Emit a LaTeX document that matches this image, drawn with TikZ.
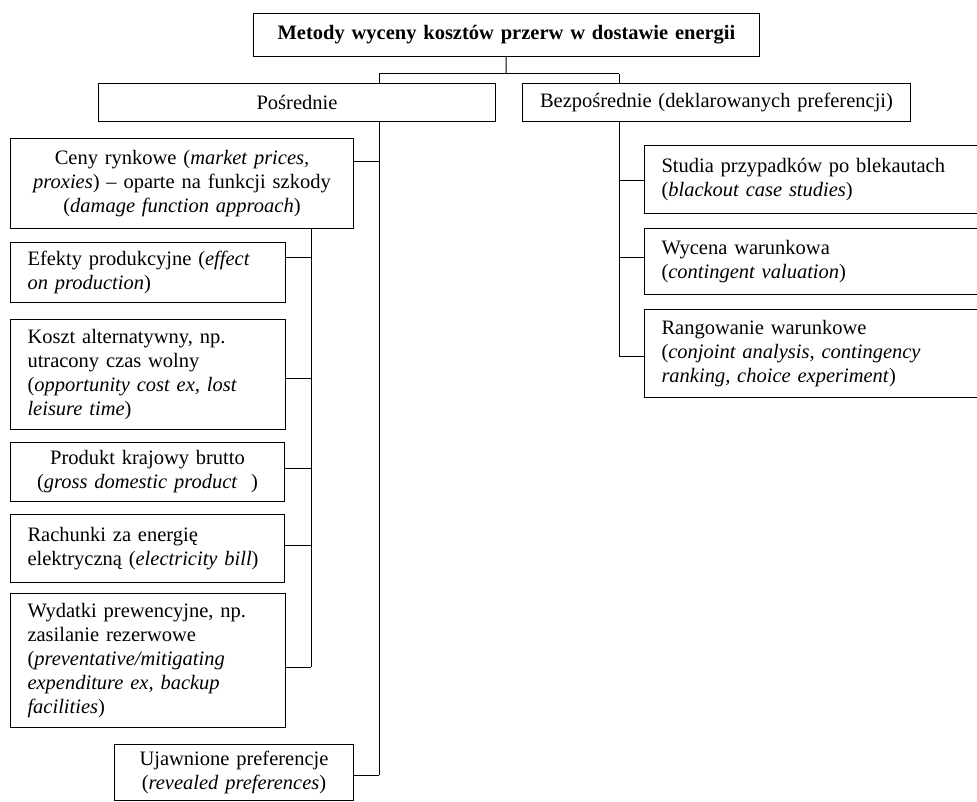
\documentclass[tikz,border=0pt]{standalone}
\usepackage{fontspec}
\setmainfont{Liberation Serif}
\usepackage{tikz}
\newcommand{\boxfont}{\fontsize{20.5}{24}\selectfont}

\tikzset{
    box/.style={draw, rectangle, anchor=north west, line width=1pt,
        inner xsep=17pt, inner ysep=0pt, font=\boxfont},
    lbox/.style={box, align=left},
    cbox/.style={box, align=center},
    conn/.style={line width=1pt},
}

\begin{document}
\begin{tikzpicture}[x=1pt, y=-1pt]
    \useasboundingbox (0,0) rectangle (977,802);
    \node[cbox, font=\boxfont\bfseries, text width=472pt, minimum height=43pt](top) at (253,13) {Metody wyceny kosztów przerw w dostawie energii};
    \node[cbox, text width=363pt, minimum height=38pt](posr)   at (98,83)  {Pośrednie};
    \node[cbox, text width=354pt, minimum height=38pt](bezp)   at (522,83) {Bezpośrednie (deklarowanych preferencji)};
    % Posrednie
    \node[cbox, text width=309pt, minimum height=90pt](ceny)   at (10,138) {Ceny rynkowe (\textit{market prices,}\\\textit{proxies}) – oparte na funkcji szkody\\(\textit{damage function approach})};
    \node[lbox, text width=241pt, minimum height=60pt](efekty) at (10,242) {Efekty produkcyjne (\textit{effect}\\\textit{on production})};
    \node[lbox, text width=241pt, minimum height=110pt](koszt) at (10,319) {Koszt alternatywny, np.\\utracony czas wolny\\(\textit{opportunity cost ex, lost}\\\textit{leisure time})};
    \node[cbox, text width=240pt, minimum height=59pt](pkb)    at (10,442) {Produkt krajowy brutto\\(\textit{gross domestic product}~~)};
    \node[lbox, text width=240pt, minimum height=68pt](rach)   at (10,514) {Rachunki za energię\\elektryczną (\textit{electricity bill})};
    \node[lbox, text width=241pt, minimum height=134pt](wyd)   at (10,593) {Wydatki prewencyjne, np.\\zasilanie rezerwowe\\(\textit{preventative/mitigating}\\\textit{expenditure ex, backup}\\\textit{facilities})};
    \node[cbox, text width=205pt, minimum height=56pt](ujawn)  at (114,744) {Ujawnione preferencje\\(\textit{revealed preferences})};
    % Bezposrednie
    \node[lbox, text width=307pt, minimum height=68pt](studia) at (644,145) {Studia przypadków po blekautach\\(\textit{blackout case studies})};
    \node[lbox, text width=307pt, minimum height=66pt](wycena) at (644,228) {Wycena warunkowa\\(\textit{contingent valuation})};
    \node[lbox, text width=307pt, minimum height=88pt](rang)   at (644,309) {Rangowanie warunkowe\\(\textit{conjoint analysis, contingency}\\\textit{ranking, choice experiment})};
    % Junctions
    \coordinate (jm) at (506,74);
    \coordinate (jl) at (379,74);
    \coordinate (jr) at (619,74);
    \coordinate (t-ceny)  at (379,162);
    \coordinate (t-ujawn) at (379,775);
    \coordinate (s-efekty) at (311,258);
    \coordinate (s-koszt)  at (311,378);
    \coordinate (s-pkb)    at (311,468);
    \coordinate (s-rach)   at (311,545);
    \coordinate (s-wyd)    at (311,667);
    \coordinate (r-studia) at (619,181);
    \coordinate (r-wycena) at (619,258);
    \coordinate (r-rang)   at (619,356);
    % Connectors
    \path[conn]
        (top)
            edge (jm)
        (jl)
            edge (jr)
            edge (jl |- posr.north)
        (jr)
            edge (jr |- bezp.north)
        (jl |- posr.south)
            edge (t-ujawn)
        (t-ceny)
            edge (t-ceny -| ceny.east)
        (t-ujawn)
            edge (t-ujawn -| ujawn.east)
        (ceny.south -| s-wyd)
            edge (s-wyd)
        (s-efekty)
            edge (s-efekty -| efekty.east)
        (s-koszt)
            edge (s-koszt -| koszt.east)
        (s-pkb)
            edge (s-pkb -| pkb.east)
        (s-rach)
            edge (s-rach -| rach.east)
        (s-wyd)
            edge (s-wyd -| wyd.east)
        (jr |- bezp.south)
            edge (r-rang)
        (r-studia)
            edge (r-studia -| studia.west)
        (r-wycena)
            edge (r-wycena -| wycena.west)
        (r-rang)
            edge (r-rang -| rang.west)
        ;
\end{tikzpicture}
\end{document}
